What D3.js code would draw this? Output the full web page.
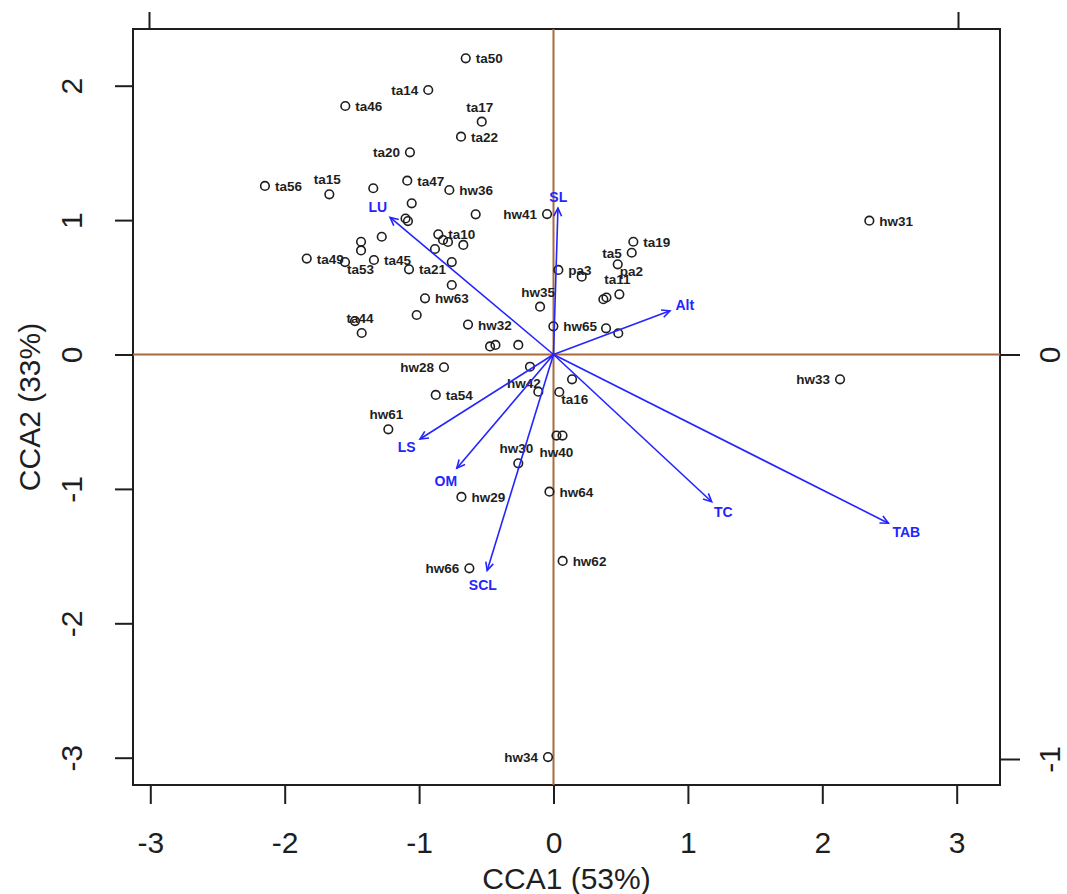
<!DOCTYPE html>
<html>
<head>
<meta charset="utf-8">
<script src="https://cdn.jsdelivr.net/npm/d3@7"></script>
<style>
  body { margin: 0; background: #fff; }
  svg { display: block; font-family: "Liberation Sans", Arial, sans-serif; }
</style>
</head>
<body>
<div id="chart"></div>
<script>
// site scores (CCA1, CCA2); "" = point drawn without a label
const siteNames = ['ta50','ta14','ta46','ta17','ta22','ta20','ta56','ta15','','ta47','hw36','','','','','hw41',
  'ta10','','','','','','','','','ta49','ta53','ta45','ta21','','hw63','','ta44','','hw32','','','',
  'hw28','hw42','','ta16','','ta54','hw61','','hw40','hw30','hw29','hw64','hw66','hw62','hw34','hw31','hw33',
  'hw65','hw35','pa3','','ta19','ta5','pa2','ta11','','','',''];
const cca1 = [-0.653,-0.932,-1.549,-0.534,-0.688,-1.068,-2.147,-1.668,-1.341,-1.088,-0.775,-1.055,-1.101,-1.083,-0.579,-0.048,
  -0.857,-0.822,-0.785,-0.671,-0.882,-0.757,-1.278,-1.432,-1.432,-1.836,-1.551,-1.336,-1.075,-0.757,-0.956,-1.018,-1.477,-1.427,-0.636,-0.472,-0.432,-0.262,
  -0.815,-0.175,-0.113,0.043,0.138,-0.876,-1.229,0.022,0.067,-0.262,-0.685,-0.030,-0.626,0.068,-0.041,2.350,2.132,
  -0.001,-0.100,0.036,0.210,0.594,0.582,0.478,0.490,0.371,0.394,0.391,0.482];
const cca2 = [2.204,1.968,1.849,1.732,1.621,1.504,1.254,1.192,1.237,1.293,1.224,1.125,1.012,0.993,1.043,1.045,
  0.894,0.852,0.837,0.815,0.785,0.688,0.876,0.839,0.774,0.714,0.688,0.703,0.634,0.517,0.418,0.294,0.249,0.160,0.223,0.060,0.071,0.071,
  -0.095,-0.091,-0.277,-0.279,-0.185,-0.301,-0.557,-0.603,-0.603,-0.810,-1.060,-1.021,-1.591,-1.536,-2.995,0.996,-0.185,
  0.210,0.356,0.629,0.579,0.839,0.757,0.671,0.448,0.411,0.424,0.195,0.158];
// where each site label sits relative to its point (r, l, t, b, c, br)
const labelPos = {
  ta14:'l', ta20:'l', hw41:'l', hw28:'l', hw66:'l', hw34:'l', hw33:'l', ta5:'l',
  ta17:'t', ta15:'t', hw61:'t', hw30:'t', hw35:'t', ta11:'t',
  hw42:'b', hw40:'b', ta44:'c', ta53:'br', ta16:'br', pa2:'br'
};

// environmental vectors (biplot scores, top/right axis units)
const envNames = ['LU','SL','Alt','TC','TAB','LS','OM','SCL'];
const envX = [-0.404, 0.011, 0.288, 0.391, 0.828, -0.330, -0.239, -0.164];
const envY = [0.339, 0.362, 0.108, -0.364, -0.417, -0.209, -0.281, -0.534];

const xTicks = [-3,-2,-1,0,1,2,3];
const yTicks = [-3,-2,-1,0,1,2];
const topTicks = [-1, 1];
const rightTicks = [0, -1];

const W = 1067, H = 894;
const box = {left: 133, right: 1000, top: 29, bottom: 785};
const brown = '#a86a3c', blue = '#2424ff', ink = '#1e1e1e';

const x = d3.scaleLinear().domain([-3, 3]).range([150.3, 956.7]);
const y = d3.scaleLinear().domain([-3, 2]).range([757.7, 85.7]);
const xa = d3.scaleLinear().domain([-1, 1]).range([149, 958]);
const ya = d3.scaleLinear().domain([-1, 0]).range([759, 354.5]);

const plain = d => String(d);   // R style: "-3", not "−3.0"

const svg = d3.select('#chart').append('svg')
  .attr('width', W).attr('height', H);

// frame
svg.append('rect')
  .attr('x', box.left).attr('y', box.top)
  .attr('width', box.right - box.left).attr('height', box.bottom - box.top)
  .attr('fill', 'none').attr('stroke', ink).attr('stroke-width', 2);

// origin lines
svg.append('line').attr('x1', box.left).attr('x2', box.right)
  .attr('y1', y(0)).attr('y2', y(0)).attr('stroke', brown).attr('stroke-width', 2);
svg.append('line').attr('x1', x(0)).attr('x2', x(0))
  .attr('y1', box.top).attr('y2', box.bottom).attr('stroke', brown).attr('stroke-width', 2);

function styleAxis(g) {
  g.select('.domain').remove();
  g.selectAll('.tick line').attr('stroke', ink).attr('stroke-width', 2);
  g.selectAll('text').attr('fill', ink).style('font-size', '30px');
}

// bottom axis
svg.append('g').attr('transform', `translate(0,${box.bottom})`)
  .call(d3.axisBottom(x).tickValues(xTicks).tickFormat(plain).tickSize(19).tickPadding(28))
  .call(styleAxis);

// left axis, labels parallel to the axis
svg.append('g').attr('transform', `translate(${box.left},0)`)
  .call(d3.axisLeft(y).tickValues(yTicks).tickFormat(plain).tickSize(18))
  .call(styleAxis)
  .call(g => g.selectAll('.tick text')
    .attr('x', null).attr('dy', '0.35em').attr('text-anchor', 'middle')
    .attr('transform', 'translate(-62,0) rotate(-90)'));

// top axis (vector scale), labels fall outside the picture
svg.append('g').attr('transform', `translate(0,${box.top})`)
  .call(d3.axisTop(xa).tickValues(topTicks).tickSize(17).tickFormat(() => ''))
  .call(styleAxis);

// right axis (vector scale)
svg.append('g').attr('transform', `translate(${box.right},0)`)
  .call(d3.axisRight(ya).tickValues(rightTicks).tickFormat(plain).tickSize(20))
  .call(styleAxis)
  .call(g => g.selectAll('.tick text')
    .attr('x', null).attr('dy', '0.35em').attr('text-anchor', 'middle')
    .attr('transform', 'translate(49,0) rotate(-90)'));

// axis titles
svg.append('text').attr('x', (box.left + box.right) / 2).attr('y', 889)
  .attr('text-anchor', 'middle').attr('fill', ink).style('font-size', '30px')
  .text('CCA1 (53%)');
svg.append('text')
  .attr('transform', `translate(29,${(box.top + box.bottom) / 2}) rotate(-90)`)
  .attr('dy', '0.35em').attr('text-anchor', 'middle').attr('fill', ink).style('font-size', '30px')
  .text('CCA2 (33%)');

// sites
const sites = siteNames.map((name, i) => ({name, cx: x(cca1[i]), cy: y(cca2[i])}));

svg.append('g').selectAll('circle')
  .data(sites).enter().append('circle')
  .attr('cx', d => d.cx).attr('cy', d => d.cy).attr('r', 4.3)
  .attr('fill', 'none').attr('stroke', ink).attr('stroke-width', 1.6);

const place = {
  r:  d => ({x: d.cx + 10, y: d.cy + 5, a: 'start'}),
  l:  d => ({x: d.cx - 10, y: d.cy + 5, a: 'end'}),
  t:  d => ({x: d.cx - 2, y: d.cy - 10, a: 'middle'}),
  b:  d => ({x: d.cx - 6, y: d.cy + 21, a: 'middle'}),
  c:  d => ({x: d.cx + 5, y: d.cy + 2, a: 'middle'}),
  br: d => ({x: d.cx + 2, y: d.cy + 12, a: 'start'})
};

svg.append('g').selectAll('text')
  .data(sites.filter(d => d.name))
  .enter().append('text')
  .each(function (d) {
    const p = place[labelPos[d.name] || 'r'](d);
    d3.select(this).attr('x', p.x).attr('y', p.y).attr('text-anchor', p.a);
  })
  .attr('fill', ink).style('font-size', '13.5px').style('font-weight', 'bold')
  .text(d => d.name);

// environmental arrows
const ox = xa(0), oy = ya(0);
const arrows = envNames.map((name, i) => ({name, tx: xa(envX[i]), ty: ya(envY[i])}));
const ag = svg.append('g');

arrows.forEach(d => {
  const ang = Math.atan2(d.ty - oy, d.tx - ox);
  const hl = 9, spread = Math.PI / 7;
  ag.append('line').attr('x1', ox).attr('y1', oy).attr('x2', d.tx).attr('y2', d.ty)
    .attr('stroke', blue).attr('stroke-width', 1.6);
  ag.append('path')
    .attr('d', `M${d.tx - hl * Math.cos(ang - spread)},${d.ty - hl * Math.sin(ang - spread)}`
      + `L${d.tx},${d.ty}L${d.tx - hl * Math.cos(ang + spread)},${d.ty - hl * Math.sin(ang + spread)}`)
    .attr('fill', 'none').attr('stroke', blue).attr('stroke-width', 1.6);

  const t = ag.append('text').attr('fill', blue)
    .style('font-size', '14px').style('font-weight', 'bold')
    .attr('text-anchor', 'middle').attr('dy', '0.35em').text(d.name);
  const w = t.node().getComputedTextLength(), h = 12;
  const ux = Math.cos(ang), uy = Math.sin(ang);
  const off = w / 2 * Math.abs(ux) + h / 2 * Math.abs(uy) + 5;
  t.attr('x', d.tx + ux * off).attr('y', d.ty + uy * off);
});
</script>
</body>
</html>
